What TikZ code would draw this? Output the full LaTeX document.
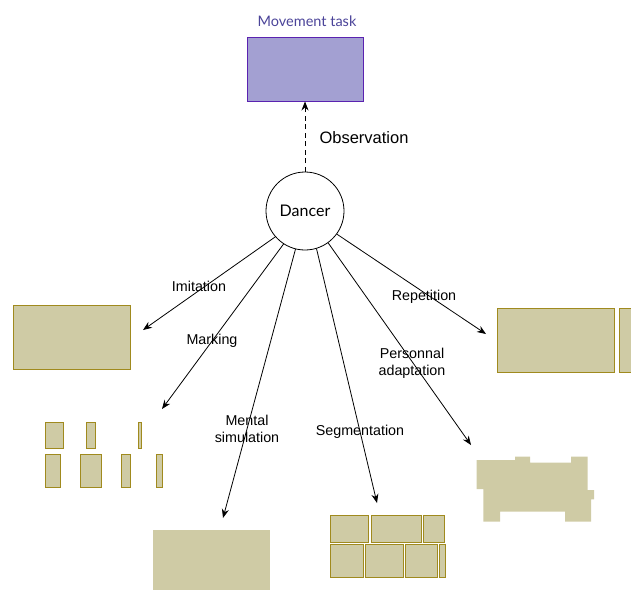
\documentclass[tikz,border=0pt]{standalone}
\usepackage{fontspec}
\setmainfont{Liberation Sans}
\newfontfamily\latofont{Lato}
\usetikzlibrary{arrows.meta}
\definecolor{taskfill}{HTML}{A3A0D2}
\definecolor{taskdraw}{HTML}{5A22B0}
\definecolor{tasktext}{HTML}{4B4499}
\definecolor{tanfill}{HTML}{CFCBA5}
\definecolor{tandraw}{HTML}{A08A1E}
\tikzset{
  arr/.style={line width=0.8pt, -{Stealth[length=9pt,width=7pt]}},
  lbl/.style={font=\fontsize{14.3}{17}\selectfont, align=center, inner sep=0pt},
  tanbox/.style={fill=tanfill, draw=tandraw, line width=0.9pt},
  tanflat/.style={fill=tanfill},
}
\begin{document}
\begin{tikzpicture}[x=1pt,y=-1pt]
\useasboundingbox (0,0) rectangle (631,590);
% movement task
\node[font=\latofont\fontsize{14.5}{17}\selectfont, text=tasktext] (tasklbl) at (307,21) {Movement task};
\node[draw=taskdraw, fill=taskfill, line width=0.9pt, minimum width=116pt, minimum height=64pt, inner sep=0pt] (task) at (305,69) {};
% dancer
\node[circle, draw, line width=0.8pt, minimum size=78pt, inner sep=0pt, font=\latofont\fontsize{16}{19}\selectfont] (dancer) at (305,211) {Dancer};
\draw[line width=0.8pt, dash pattern=on 5pt off 3.5pt, -{Stealth[length=9pt,width=7pt]}] (dancer.north) -- (task.south);
\node[font=\fontsize{16.5}{19}\selectfont, inner sep=0pt] (obs) at (364,138) {Observation};
% tips
\coordinate (tImit) at (143,330);
\coordinate (tMark) at (162,409);
\coordinate (tMent) at (223,518);
\coordinate (tSeg) at (377,503);
\coordinate (tPers) at (471,445);
\coordinate (tRep) at (486,334);
\draw[arr] (dancer.221) -- (tImit);
\draw[arr] (dancer.237) -- (tMark);
\draw[arr] (dancer.256) -- (tMent);
\draw[arr] (dancer.287) -- (tSeg);
\draw[arr] (dancer.306) -- (tPers);
\draw[arr] (dancer.324) -- (tRep);
% labels
\node[lbl] (lImit) at (199,286) {Imitation};
\node[lbl] (lMark) at (212,341) {Marking};
\node[lbl] (lMent) at (247,429) {Mental\\simulation};
\node[lbl] (lSeg) at (360,432) {Segmentation};
\node[lbl] (lPers) at (412,363) {Personnal\\adaptation};
\node[lbl] (lRep) at (424,297) {Repetition};
% imitation box
\draw[tanbox] (13,305) rectangle (130,369);
% marking boxes
\draw[tanbox] (45,422) rectangle (63,448);
\draw[tanbox] (86,422) rectangle (95,448);
\draw[tanbox] (138,422) rectangle (141.5,448);
\draw[tanbox] (45,454) rectangle (60,487);
\draw[tanbox] (80,454) rectangle (101,487);
\draw[tanbox] (121,454) rectangle (130,487);
\draw[tanbox] (156,454) rectangle (162,487);
% repetition boxes
\draw[tanbox] (497,308) rectangle (614,372);
\draw[tanbox] (619.5,308) rectangle (640,372);
% mental simulation box
\fill[tanflat] (153,530) rectangle (270,590);
% segmentation boxes
\draw[tanbox] (330.5,515) rectangle (368.5,542);
\draw[tanbox] (371,515) rectangle (421,542);
\draw[tanbox] (423.5,515) rectangle (444,542);
\draw[tanbox] (330.5,544.5) rectangle (363,577);
\draw[tanbox] (365.5,544.5) rectangle (403.5,577);
\draw[tanbox] (405.5,544.5) rectangle (437.5,577);
\draw[tanbox] (439.5,544.5) rectangle (445.5,577);
% personal adaptation blob
\fill[tanflat] (476.7,460) -- (515,460) -- (515,456.7) -- (530,456.7) -- (530,462.7) -- (571,462.7) -- (571,456.7) -- (587.7,456.7) -- (587.7,490) -- (594,490) -- (594,499.3) -- (591,499.3) -- (591,521.7) -- (565,521.7) -- (565,511.7) -- (500,511.7) -- (500,521.7) -- (483.3,521.7) -- (483.3,489) -- (476.7,489) -- cycle;
\end{tikzpicture}
\end{document}
